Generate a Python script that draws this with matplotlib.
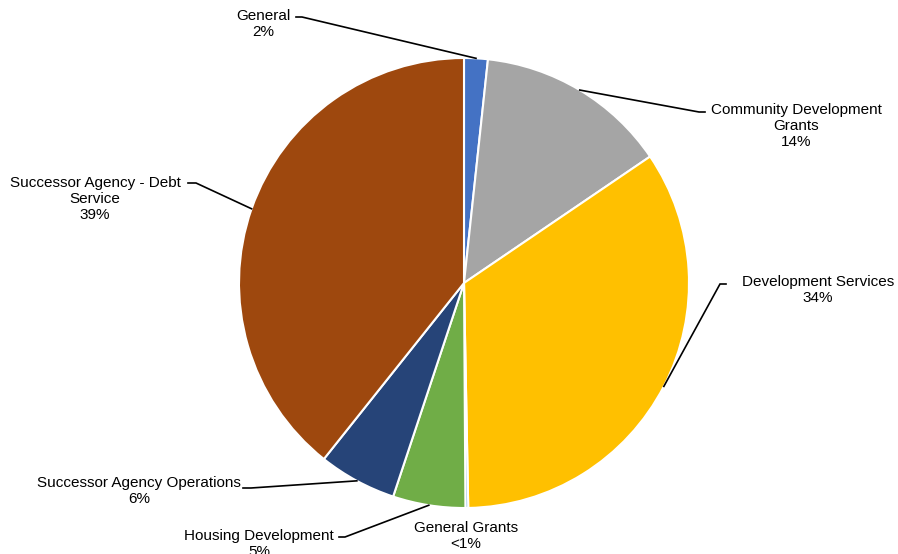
import matplotlib.pyplot as plt
import numpy as np

plt.rcParams['font.family'] = ['Liberation Sans', 'DejaVu Sans']

labels = ['General', 'Community Development\nGrants', 'Development Services', 'General Grants',
          'Housing Development', 'Successor Agency Operations', 'Successor Agency - Debt\nService']
shares = [1.7, 13.8, 34.2, 0.2, 5.2, 5.6, 39.3]
pct_text = ['2%', '14%', '34%', '<1%', '5%', '6%', '39%']
colors = ['#4472C4', '#A5A5A5', '#FFC000', '#5B9BD5', '#70AD47', '#264478', '#9E480E']

# label centres in pixels (x, y from top), where the leader line leaves the text,
# and the short horizontal stub (signed, px) before it heads to the slice
label_pos = [(263, 24), (796, 126), (818, 290), (466, 536), (259, 544), (139, 491), (95, 199)]
line_start = [(296, 17), (705, 112), (726, 284), None, (339, 537), (243, 488), (188, 183)]
stub = [6, -6, -6, 0, 6, 8, 8]

W, H = 898, 554
cx, cy, R = 464, 283, 225

fig = plt.figure(figsize=(W / 100, H / 100), dpi=100)
ax = fig.add_axes([0, 0, 1, 1])

wedges, _ = ax.pie(shares, colors=colors, startangle=90, counterclock=False, radius=R,
                   center=(cx, H - cy), frame=True,
                   wedgeprops=dict(edgecolor='white', linewidth=1.5))
ax.set_xlim(0, W)
ax.set_ylim(0, H)
ax.set_aspect('equal')
ax.axis('off')

for w, lab, pct, (tx, ty), ls, s in zip(wedges, labels, pct_text, label_pos, line_start, stub):
    ax.text(tx, H - ty, lab + '\n' + pct, ha='center', va='center', fontsize=11,
            linespacing=1.2, color='#000000')
    if ls is None:
        continue
    mid = np.deg2rad((w.theta1 + w.theta2) / 2)
    px = cx + R * np.cos(mid)
    py = (H - cy) + R * np.sin(mid)
    ax.plot([ls[0], ls[0] + s, px], [H - ls[1], H - ls[1], py], color='black',
            linewidth=1.2, solid_joinstyle='miter')

fig.savefig('out.png', dpi=100)
